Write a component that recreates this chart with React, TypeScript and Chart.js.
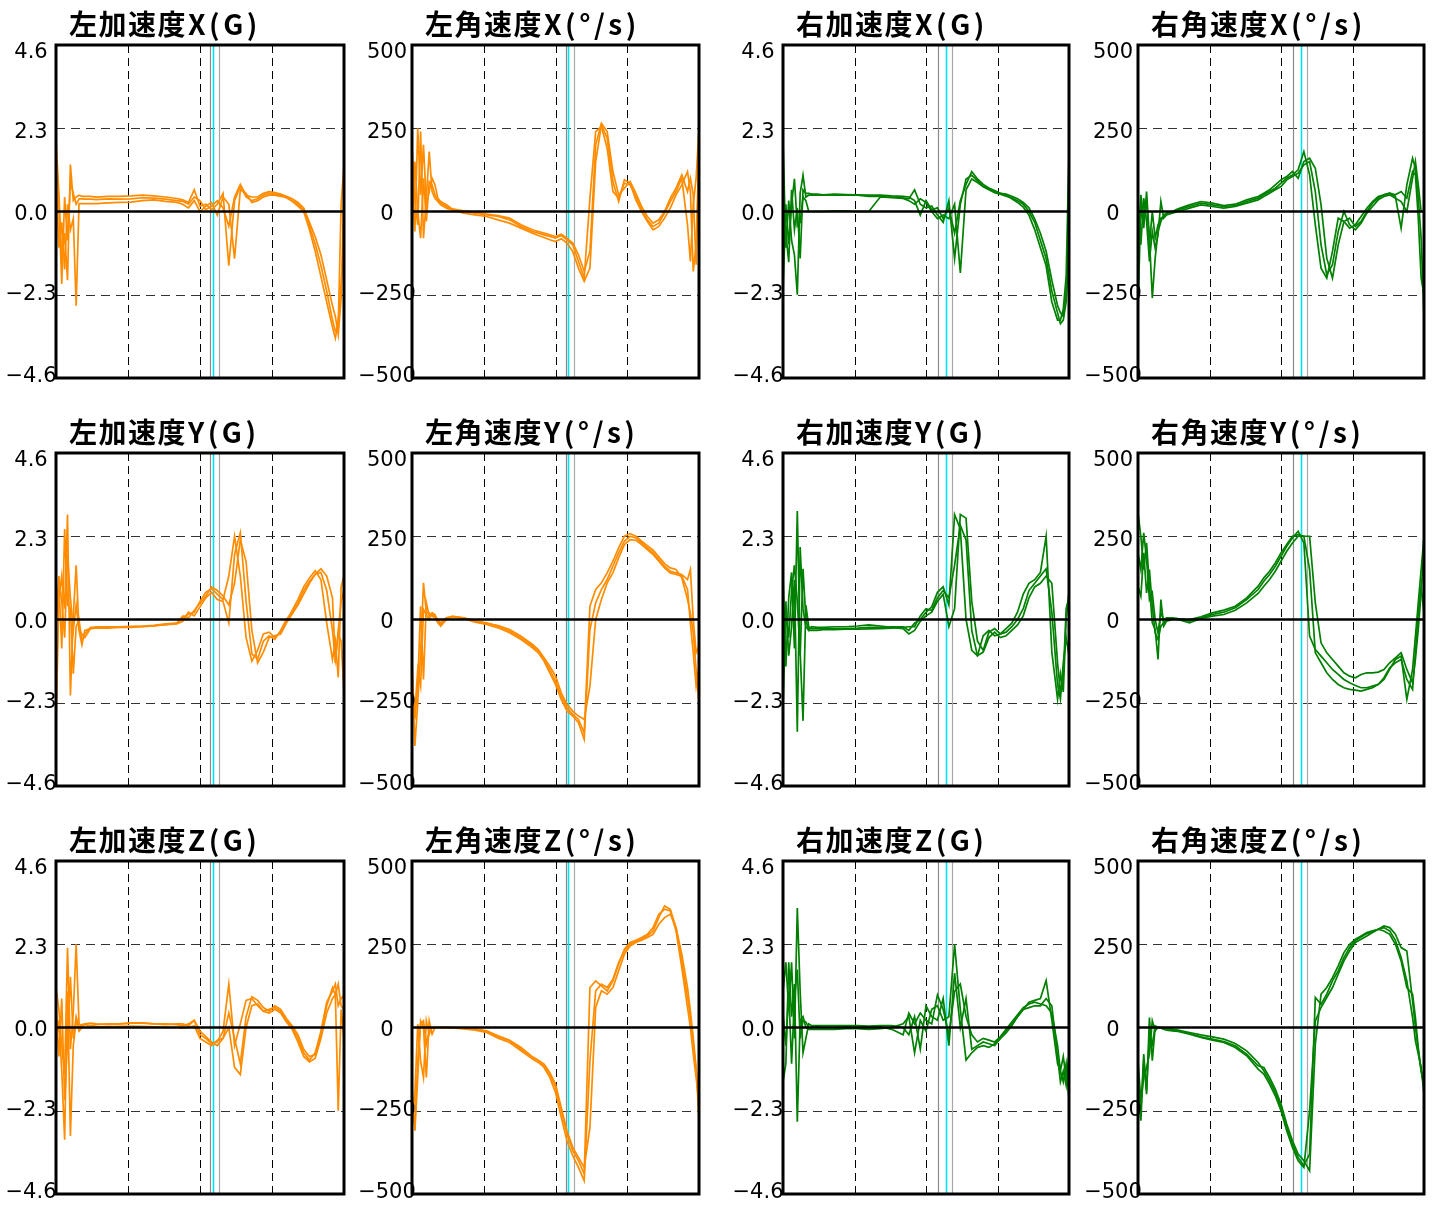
import React, { useEffect, useRef } from 'react';
import { Chart, registerables } from 'chart.js';

Chart.register(...registerables);

// ---------- shared x grid (percent of cycle) ----------
const X = [0, 1, 2, 3, 4, 5, 6, 7, 8, 9, 10, 12, 14, 18, 22, 26, 30, 34, 38, 42,
  44, 46, 48, 50, 52, 54, 56, 58, 60, 62, 64, 66, 68, 70, 72, 74, 76, 78, 80, 82, 84, 86, 88, 90, 92, 94,
  96, 97, 98, 99, 100];

const ACC_TICKS = [-4.6, -2.3, 0, 2.3, 4.6];
const ACC_LABELS = ['−4.6', '−2.3', '0.0', '2.3', '4.6'];
const ANG_TICKS = [-500, -250, 0, 250, 500];
const ANG_LABELS = ['−500', '−250', '0', '250', '500'];
const GRID_X = [25, 50, 75];
const LEFT_MARKS = [53.6, 54.5, 56.6];
const RIGHT_MARKS = [54.3, 56.9, 59.2];

const TITLE_HEADS = ['左加速度', '左角速度', '右加速度', '右角速度'];
const AXES = ['X', 'Y', 'Z'];
const UNITS = ['(G)', '(°/s)', '(G)', '(°/s)'];

// ---------- left acceleration X ----------
const LAX_A = [2.0, 0.5, -1.3, -0.6, -1.9, 1.3, 0.3, 0.4, 0.45, 0.42, 0.42, 0.42, 0.4, 0.42, 0.42, 0.43, 0.45, 0.43, 0.4, 0.36, 0.32, 0.25, 0.6, 0.15, 0.2, 0.05, 0.2, 0.5, -1.5, 0.3, 0.7, 0.4, 0.3, 0.35, 0.45, 0.5, 0.48, 0.45, 0.4, 0.3, 0.2, 0.05, -0.4, -0.9, -1.5, -2.2, -3.0, -3.3, -3.2, 0.2, 1.3];
const LAX_B = [1.0, -1.0, -0.3, -1.6, 0.2, -0.5, -0.2, -2.6, 0.22, 0.22, 0.22, 0.22, 0.22, 0.24, 0.25, 0.26, 0.3, 0.32, 0.28, 0.25, 0.2, 0.1, 0.3, 0.0, 0.15, 0.25, -0.1, 0.4, 0.2, -1.3, 0.6, 0.5, 0.25, 0.3, 0.4, 0.45, 0.45, 0.42, 0.38, 0.28, 0.15, 0.0, -0.5, -1.1, -1.8, -2.5, -3.2, -3.5, -3.0, -2.0, -0.8];
const LAX_C = [1.6, 0.2, -2.0, 0.4, -0.8, 0.8, 0.5, 0.2, 0.35, 0.35, 0.34, 0.34, 0.33, 0.35, 0.34, 0.35, 0.38, 0.37, 0.34, 0.3, 0.28, 0.2, 0.4, 0.3, 0.05, 0.15, 0.3, 0.1, -0.4, 0.4, 0.75, 0.45, 0.4, 0.4, 0.5, 0.55, 0.52, 0.48, 0.42, 0.35, 0.25, 0.1, -0.3, -0.7, -1.2, -1.9, -2.6, -2.9, -3.4, -2.4, 0.6];

// ---------- left angular velocity X ----------
const LANGX_A = [200, 30, -40, 240, -80, 40, 180, 60, 40, 30, 20, 10, 5, 0, -5, -10, -15, -25, -45, -60, -65, -70, -75, -80, -72, -85, -100, -150, -200, 40, 240, 255, 190, 60, 40, 85, 80, 45, 5, -25, -45, -35, -5, 30, 60, 100, -40, -150, 20, 100, 250];
const LANGX_B = [-40, 150, 0, -80, 100, -30, 90, 80, 50, 35, 25, 15, 5, -5, -10, -15, -25, -35, -50, -65, -72, -78, -85, -90, -82, -95, -120, -170, -210, -170, 150, 260, 220, 90, 30, 95, 85, 35, 0, -30, -55, -45, -20, 10, 50, 80, 120, 60, -180, -100, 190];
const LANGX_C = [100, -60, 250, 50, 200, 20, 60, 100, 80, 40, 30, 20, 8, 2, -2, -8, -12, -20, -40, -55, -60, -65, -70, -75, -68, -80, -95, -130, -180, -120, 200, 265, 240, 120, 50, 70, 90, 55, 15, -15, -35, -25, 0, 40, 70, 110, 60, 100, 50, -160, 180];

// ---------- right acceleration X ----------
const RAX_A = [2.0, -1.0, 0.3, -0.8, -1.2, -2.3, 0.5, 1.0, 0.4, 0.45, 0.45, 0.45, 0.45, 0.45, 0.45, 0.45, 0.42, 0.42, 0.4, 0.38, 0.35, 0.6, 0.2, 0.1, 0.15, -0.1, -0.3, 0.3, -1.3, 0.2, 0.9, 1.0, 0.85, 0.7, 0.62, 0.55, 0.5, 0.45, 0.35, 0.25, 0.12, -0.1, -0.5, -1.0, -1.5, -2.5, -3.0, -3.0, -2.7, -1.8, 1.7];
const RAX_B = [-2.2, 0.2, -0.9, 0.2, 0.9, -0.4, -0.3, 0.4, 0.3, 0.0, 0.0, 0.0, 0.0, 0.02, 0.02, 0.0, 0.0, 0.4, 0.38, 0.36, 0.3, 0.2, 0.35, 0.25, 0.0, -0.2, -0.1, -0.2, 0.2, -1.7, 0.6, 0.9, 0.8, 0.68, 0.6, 0.52, 0.48, 0.42, 0.38, 0.3, 0.2, 0.0, -0.3, -0.8, -1.3, -2.2, -2.8, -3.1, -3.0, -2.5, -1.0];
const RAX_C = [0.8, -0.6, -1.4, 0.6, -0.5, 0.1, -1.3, 0.6, 0.5, 0.5, 0.48, 0.48, 0.46, 0.48, 0.47, 0.46, 0.45, 0.45, 0.43, 0.42, 0.4, 0.3, -0.1, 0.3, 0.05, 0.1, -0.2, 0.1, -0.6, 0.3, 0.75, 1.1, 0.9, 0.75, 0.65, 0.58, 0.5, 0.48, 0.42, 0.35, 0.25, 0.1, -0.2, -0.6, -1.1, -1.9, -2.6, -2.8, -2.9, -2.2, -0.6];

// ---------- right angular velocity X ----------
const RANGX_A = [-300, 20, -50, 60, -80, -260, -140, -60, -30, -10, -5, 0, 5, 15, 25, 20, 15, 18, 30, 40, 50, 60, 70, 85, 100, 110, 125, 180, 110, -40, -170, -200, -120, -20, -30, -50, -40, -15, 10, 30, 45, 50, 55, 45, -50, 80, 160, 130, 40, -80, -320];
const RANGX_B = [0, -100, 40, -30, -150, -60, -110, -70, 30, -20, -10, -5, 0, 10, 20, 15, 10, 15, 25, 35, 45, 55, 65, 75, 95, 105, 115, 140, 150, 60, -100, -190, -160, -60, 0, -40, -55, -35, -5, 15, 35, 45, 50, 40, 30, 0, 100, 150, 80, 0, 0];
const RANGX_C = [-120, 50, -20, 30, -100, 0, -80, -40, -20, -15, -5, 0, 8, 20, 30, 25, 18, 22, 35, 45, 55, 65, 80, 95, 105, 120, 100, 150, 160, 130, 20, -140, -200, -100, -30, -20, -45, -30, 0, 25, 40, 50, 55, 50, 60, 40, 120, 110, -20, -200, -250];

// ---------- left acceleration Y ----------
const LAY_A = [-2.9, 0.5, 1.2, 0.3, 2.9, -2.1, 0.1, 1.5, -0.3, -0.4, -0.5, -0.25, -0.2, -0.2, -0.2, -0.19, -0.18, -0.16, -0.12, -0.1, 0.05, 0.15, 0.2, 0.5, 0.75, 0.85, 0.7, 0.55, 1.2, 2.3, 1.2, -0.5, -1.15, -0.85, -0.4, -0.35, -0.5, -0.35, -0.05, 0.25, 0.55, 0.9, 1.15, 1.35, 1.1, -0.1, -1.1, -0.6, -1.6, 0.9, 1.2];
const LAY_B = [0.0, 1.0, -0.8, 2.5, 0.4, 0.3, -1.5, -0.2, 0.0, -0.6, -0.4, -0.22, -0.22, -0.22, -0.2, -0.2, -0.19, -0.17, -0.14, -0.12, -0.05, 0.2, 0.1, 0.35, 0.6, 0.75, 0.55, 0.5, -0.1, 1.8, 2.4, 0.5, -0.95, -1.1, -0.6, -0.45, -0.55, -0.3, 0.0, 0.2, 0.45, 0.8, 1.05, 1.25, 1.3, 0.8, -0.3, -1.1, -0.4, -0.6, -2.0];
const LAY_C = [-0.4, 1.2, 0.5, -0.5, 1.8, 0.6, -0.3, 0.4, -0.3, -0.7, -0.3, -0.25, -0.24, -0.24, -0.22, -0.22, -0.2, -0.18, -0.14, -0.1, 0.1, 0.05, 0.25, 0.45, 0.65, 0.9, 0.8, 0.65, 0.4, 1.0, 2.2, 1.6, -0.3, -1.2, -0.9, -0.5, -0.45, -0.4, -0.1, 0.15, 0.4, 0.7, 1.0, 1.25, 1.4, 1.2, 0.6, -1.2, -0.3, 0.5, 0.8];

// ---------- left angular velocity Y ----------
const LANGY_A = [-120, -380, -250, -100, 110, 20, 20, 10, 5, -10, -20, 0, 10, 5, -5, -10, -20, -35, -55, -80, -95, -120, -150, -185, -230, -265, -285, -300, -340, 40, 90, 110, 140, 175, 215, 250, 258, 250, 235, 222, 208, 188, 168, 155, 150, 125, 60, 20, -40, -150, -250];
const LANGY_B = [-200, -280, -150, -200, 30, 15, 0, 20, 15, -5, -15, 5, 8, 3, -8, -15, -25, -40, -60, -85, -100, -125, -160, -195, -240, -275, -290, -310, -360, -30, 50, 90, 120, 160, 200, 235, 250, 245, 230, 215, 200, 180, 160, 145, 140, 135, 120, 150, 0, -100, -80];
const LANGY_C = [-160, -300, -200, 40, -180, 50, 10, 15, 10, 0, -10, 5, 8, 5, -3, -12, -18, -30, -50, -75, -90, -115, -140, -170, -220, -255, -275, -290, -300, -200, 0, 60, 110, 140, 185, 225, 240, 238, 225, 210, 195, 175, 155, 140, 135, 130, 90, -10, -100, -200, -140];

// ---------- right acceleration Y ----------
const RAY_A = [1.2, -1.3, 0.6, 1.3, -0.8, 3.0, -0.9, -2.8, 0.4, -0.2, -0.25, -0.25, -0.25, -0.25, -0.25, -0.24, -0.22, -0.22, -0.2, -0.2, -0.3, -0.1, 0.0, 0.2, 0.35, 0.75, 0.9, 0.4, 2.9, 2.5, 0.0, -0.85, -1.0, -0.45, -0.3, -0.45, -0.4, -0.25, -0.1, 0.2, 0.7, 1.0, 1.1, 1.3, 2.3, -0.9, -2.2, -1.5, -2.0, 0.0, 0.8];
const RAY_B = [-2.5, 0.5, -1.0, -0.2, 1.1, -3.1, 2.0, 0.3, -0.2, -0.3, -0.2, -0.22, -0.22, -0.2, -0.2, -0.18, -0.15, -0.18, -0.22, -0.25, -0.4, -0.3, -0.05, 0.1, 0.2, 0.5, 0.7, -0.2, 0.3, 2.9, 2.8, 0.5, -0.6, -0.85, -0.35, -0.25, -0.4, -0.35, -0.2, 0.0, 0.3, 0.8, 1.0, 1.2, 1.4, 0.2, -1.8, -2.2, -1.2, -0.5, -1.0];
const RAY_C = [-0.6, 0.2, -0.5, 0.8, 1.5, 0.5, -1.0, 1.4, 0.0, -0.3, -0.3, -0.3, -0.28, -0.28, -0.27, -0.27, -0.26, -0.25, -0.24, -0.22, -0.2, -0.2, 0.1, 0.3, 0.25, 0.6, 0.8, 0.6, 1.5, 2.6, 2.2, -0.3, -1.0, -0.9, -0.5, -0.35, -0.5, -0.45, -0.3, -0.15, 0.1, 0.6, 0.9, 1.0, 1.2, 1.0, -1.2, -2.0, -1.6, 0.3, 0.6];

// ---------- right angular velocity Y ----------
const RANGY_A = [320, 250, 150, 230, 100, -10, -30, -120, 60, -20, -5, 0, 2, -5, 5, 15, 22, 35, 60, 90, 115, 135, 160, 190, 220, 245, 265, 230, -50, -90, -110, -130, -150, -165, -180, -190, -198, -205, -205, -200, -195, -180, -150, -120, -110, -240, -150, -50, 50, 150, 250];
const RANGY_B = [100, 70, 200, 80, 150, 40, -40, -60, -20, -10, 0, 2, 0, -10, 3, 10, 15, 28, 50, 78, 100, 120, 145, 175, 205, 230, 250, 250, 150, -100, -130, -160, -180, -195, -205, -210, -212, -215, -210, -205, -195, -175, -145, -130, -120, -180, -210, -100, 20, 100, 20];
const RANGY_C = [200, 150, 260, 180, 60, 80, 0, -40, 20, 0, 5, 5, 3, 0, 8, 20, 28, 40, 65, 100, 125, 145, 170, 200, 225, 250, 255, 250, 250, 50, -70, -100, -120, -140, -160, -170, -175, -165, -160, -160, -158, -150, -130, -115, -100, -150, -190, -120, -30, 80, 230];

// ---------- left acceleration Z ----------
const LAZ_A = [1.1, 0.5, -0.5, -1.3, 2.2, -0.6, 0.4, 2.3, 0.1, 0.05, 0.08, 0.05, 0.08, 0.1, 0.1, 0.12, 0.12, 0.1, 0.1, 0.08, 0.05, 0.1, 0.2, -0.2, -0.3, -0.45, -0.4, -0.1, 1.2, -0.5, 0.1, 0.75, 0.8, 0.6, 0.45, 0.5, 0.55, 0.45, 0.2, 0.0, -0.3, -0.7, -0.9, -0.7, -0.1, 0.7, 1.0, 1.2, 0.6, 0.8, 0.9];
const LAZ_B = [-0.5, 0.2, -1.2, -3.1, 1.0, -3.0, -0.5, 0.2, -0.1, 0.0, 0.0, 0.0, 0.02, 0.02, 0.03, 0.04, 0.03, 0.02, 0.0, 0.0, -0.02, 0.0, 0.05, -0.3, -0.4, -0.5, -0.35, -0.3, 0.0, -1.1, -1.3, 0.0, 0.6, 0.65, 0.45, 0.4, 0.5, 0.4, 0.15, -0.05, -0.4, -0.8, -0.95, -0.85, -0.3, 0.4, 0.8, 0.9, -2.3, 0.5, -0.3];
const LAZ_C = [0.6, -0.8, 0.8, -2.0, -0.4, 1.4, -0.3, 0.3, 0.0, 0.08, 0.1, 0.12, 0.1, 0.08, 0.1, 0.12, 0.13, 0.1, 0.08, 0.1, 0.1, 0.05, 0.2, -0.1, -0.25, -0.4, -0.5, -0.3, 0.4, -0.3, -1.0, 0.3, 0.85, 0.75, 0.55, 0.45, 0.6, 0.5, 0.25, 0.05, -0.2, -0.6, -0.8, -0.75, -0.2, 0.6, 1.1, 0.9, 1.2, 0.6, 0.5];

// ---------- left angular velocity Z ----------
const LANGZ_A = [-180, -310, -150, 20, 0, -150, 20, -20, 0, 0, 0, 0, 0, -3, -5, -12, -28, -40, -65, -90, -100, -115, -140, -180, -250, -320, -370, -400, -440, 120, 140, 125, 110, 140, 190, 235, 255, 262, 270, 280, 300, 340, 355, 350, 290, 180, 60, 0, -80, -150, -230];
const LANGZ_B = [-280, -200, 10, -100, -150, 20, -20, 0, 0, 0, 0, 0, -1, -4, -8, -15, -32, -45, -70, -95, -105, -120, -150, -195, -270, -340, -385, -420, -460, -100, 110, 130, 120, 145, 195, 230, 250, 258, 265, 275, 290, 330, 365, 355, 300, 200, 90, 30, -50, -130, -210];
const LANGZ_C = [-250, -290, -100, 10, 20, -50, -10, 0, 0, 0, 0, 0, 0, -2, -4, -10, -25, -38, -60, -88, -98, -110, -135, -170, -240, -310, -360, -390, -420, -300, 60, 110, 100, 120, 170, 220, 245, 255, 262, 270, 280, 310, 330, 340, 300, 220, 120, 50, -30, -120, -280];

// ---------- right acceleration Z ----------
const RAZ_A = [1.0, 1.8, 0.5, 1.8, -0.3, 3.3, 1.0, -0.7, -0.3, 0.1, 0.05, 0.05, 0.05, 0.05, 0.05, 0.05, 0.04, 0.05, 0.05, 0.0, -0.2, 0.3, -0.6, 0.6, 0.3, 0.2, 0.8, -0.5, 1.5, 0.0, 0.8, -0.6, -0.5, -0.4, -0.45, -0.5, -0.3, -0.15, 0.05, 0.3, 0.5, 0.7, 0.75, 0.8, 1.3, 0.2, -1.0, -1.2, -1.5, -1.0, -2.0];
const RAZ_B = [-1.5, -1.0, 1.8, 0.3, 1.2, -2.6, 0.2, 0.3, 0.0, -0.05, -0.05, -0.05, -0.05, -0.05, -0.03, -0.03, -0.05, -0.03, 0.0, 0.1, 0.3, -0.7, 0.2, -0.1, 0.5, 0.6, 0.2, 0.3, 2.3, 0.5, -0.9, -0.7, -0.55, -0.5, -0.55, -0.45, -0.3, -0.1, 0.1, 0.3, 0.5, 0.55, 0.6, 0.6, 0.8, 0.6, -0.8, -1.5, -1.2, -1.6, -0.7];
const RAZ_C = [0.4, -0.5, 1.0, -1.0, 0.8, 1.6, -0.3, 0.2, 0.15, 0.0, 0.0, 0.02, 0.0, 0.0, 0.02, 0.0, 0.0, 0.02, -0.05, -0.2, 0.4, 0.1, 0.4, 0.2, 0.1, 0.9, 0.5, -0.2, 1.0, 1.2, 0.3, -0.2, -0.4, -0.3, -0.35, -0.4, -0.25, -0.05, 0.15, 0.35, 0.55, 0.65, 0.7, 0.65, 0.6, 0.4, -0.5, -1.2, -0.8, -1.4, -1.6];

// ---------- right angular velocity Z ----------
const RANGZ_A = [-200, -280, -100, -200, 30, -100, 0, 0, 0, -2, -3, -5, -8, -15, -22, -28, -35, -48, -70, -105, -130, -160, -195, -240, -300, -350, -390, -415, -380, 90, 70, 100, 140, 170, 210, 240, 260, 272, 282, 288, 295, 300, 290, 262, 210, 140, 30, -40, -80, -120, -200];
const RANGZ_B = [-100, -220, -150, -120, -80, 20, -10, 0, 0, -3, -5, -8, -10, -18, -28, -35, -42, -55, -80, -115, -120, -150, -185, -230, -290, -340, -380, -400, -430, -50, 100, 120, 150, 185, 225, 250, 265, 275, 285, 290, 295, 290, 280, 250, 200, 120, 100, 30, -60, -130, -180];
const RANGZ_C = [-150, -250, -80, -190, -20, -50, 5, 0, -2, -5, -8, -10, -12, -20, -30, -38, -45, -60, -85, -125, -140, -170, -205, -250, -310, -360, -400, -420, -250, 20, 60, 90, 120, 160, 200, 230, 255, 265, 275, 285, 295, 305, 300, 280, 240, 230, 80, 0, -70, -130, -160];

const ORANGE = '#FF8C00';
const GREEN = '#008000';

const SERIES = [
  [[LAX_A, LAX_B, LAX_C], [LANGX_A, LANGX_B, LANGX_C], [RAX_A, RAX_B, RAX_C], [RANGX_A, RANGX_B, RANGX_C]],
  [[LAY_A, LAY_B, LAY_C], [LANGY_A, LANGY_B, LANGY_C], [RAY_A, RAY_B, RAY_C], [RANGY_A, RANGY_B, RANGY_C]],
  [[LAZ_A, LAZ_B, LAZ_C], [LANGZ_A, LANGZ_B, LANGZ_C], [RAZ_A, RAZ_B, RAZ_C], [RANGZ_A, RANGZ_B, RANGZ_C]],
];

// layout (page pixels) of each plot area
const COL_LEFT = [56, 412, 783, 1138];
const COL_WIDTH = [288, 287, 286, 286];
const ROW_TOP = [45, 453, 861];
const PLOT_H = 333;
const PAD = { left: 56, top: 45, right: 10, bottom: 22 };
const LABEL_DY = [-1, 0, 3, 4.5, 7.5];

type PanelProps = {
  head: string;
  tail: string;
  series: number[][];
  color: string;
  ticks: number[];
  labels: string[];
  marks: number[];
  left: number;
  top: number;
  width: number;
};

function Panel(p: PanelProps) {
  const ref = useRef<HTMLCanvasElement | null>(null);
  const cw = PAD.left + p.width + PAD.right;
  const ch = PAD.top + PLOT_H + PAD.bottom;

  useEffect(() => {
    const canvas = ref.current;
    if (!canvas) return;
    const ymin = p.ticks[0];
    const ymax = p.ticks[p.ticks.length - 1];

    const decor = {
      id: 'decor',
      beforeDatasetsDraw(chart: any) {
        const { ctx, chartArea: a, scales } = chart;
        const xs = scales.x;
        const ys = scales.y;
        ctx.save();
        ctx.lineWidth = 1;
        ctx.strokeStyle = '#000';
        ctx.setLineDash([8, 5]);
        for (const g of GRID_X) {
          const px = Math.round(xs.getPixelForValue(g)) + 0.5;
          ctx.beginPath();
          ctx.moveTo(px, a.top);
          ctx.lineTo(px, a.bottom);
          ctx.stroke();
        }
        ctx.strokeStyle = '#333';
        ctx.setLineDash([9, 6]);
        for (const t of p.ticks) {
          if (t === 0 || t === ymin || t === ymax) continue;
          const py = Math.round(ys.getPixelForValue(t)) + 0.5;
          ctx.beginPath();
          ctx.moveTo(a.left, py);
          ctx.lineTo(a.right, py);
          ctx.stroke();
        }
        ctx.setLineDash([]);
        const markColors = ['#8a8a8a', '#00E5F0', '#a8a8a8'];
        const markWidths = [1.2, 1.6, 1.2];
        p.marks.forEach((m, i) => {
          const px = Math.round(xs.getPixelForValue(m)) + 0.5;
          ctx.strokeStyle = markColors[i];
          ctx.lineWidth = markWidths[i];
          ctx.beginPath();
          ctx.moveTo(px, a.top);
          ctx.lineTo(px, a.bottom);
          ctx.stroke();
        });
        ctx.restore();
      },
      afterDatasetsDraw(chart: any) {
        const { ctx, chartArea: a, scales } = chart;
        const ys = scales.y;
        ctx.save();
        const zy = ys.getPixelForValue(0);
        ctx.strokeStyle = '#000';
        ctx.lineWidth = 2.6;
        ctx.beginPath();
        ctx.moveTo(a.left, zy);
        ctx.lineTo(a.right, zy);
        ctx.stroke();
        ctx.lineWidth = 3;
        ctx.strokeRect(a.left, a.top, a.right - a.left, a.bottom - a.top);
        // tick labels
        ctx.fillStyle = '#000';
        ctx.font = '21px "DejaVu Sans", sans-serif';
        ctx.textAlign = 'center';
        ctx.textBaseline = 'middle';
        p.ticks.forEach((t, i) => {
          const py = ys.getPixelForValue(t) + LABEL_DY[i];
          ctx.fillText(p.labels[i], a.left - 25, py);
        });
        // title
        ctx.font = 'bold 28px "Noto Sans CJK JP", sans-serif';
        ctx.textAlign = 'left';
        ctx.textBaseline = 'middle';
        const ty = a.top - 21;
        const tx = a.left + 13;
        (ctx as any).letterSpacing = '1.5px';
        ctx.fillText(p.head, tx, ty);
        const hw = ctx.measureText(p.head).width;
        (ctx as any).letterSpacing = '3.5px';
        ctx.fillText(p.tail, tx + hw + 1, ty);
        (ctx as any).letterSpacing = '0px';
        ctx.restore();
      },
    };

    const chart = new Chart(canvas, {
      type: 'line',
      data: {
        datasets: p.series.map((s) => ({
          data: X.map((x, i) => ({ x, y: s[i] })),
          borderColor: p.color,
          backgroundColor: p.color,
          borderWidth: 1.7,
          pointRadius: 0,
          fill: false,
          tension: 0,
        })),
      },
      options: {
        animation: false,
        responsive: false,
        devicePixelRatio: 1,
        events: [],
        layout: { padding: PAD },
        plugins: {
          legend: { display: false },
          tooltip: { enabled: false },
          title: { display: false },
        },
        scales: {
          x: { type: 'linear', min: 0, max: 100, display: false },
          y: { type: 'linear', min: ymin, max: ymax, display: false },
        },
      },
      plugins: [decor],
    } as any);
    return () => chart.destroy();
  }, []);

  return (
    <canvas
      ref={ref}
      width={cw}
      height={ch}
      style={{ position: 'absolute', left: p.left - PAD.left, top: p.top - PAD.top, width: cw, height: ch }}
    />
  );
}

export default function App() {
  const panels: React.ReactNode[] = [];
  for (let r = 0; r < 3; r++) {
    for (let c = 0; c < 4; c++) {
      const isAng = c % 2 === 1;
      const isLeft = c < 2;
      panels.push(
        <Panel
          key={`${r}-${c}`}
          head={TITLE_HEADS[c]}
          tail={AXES[r] + UNITS[c]}
          series={SERIES[r][c]}
          color={isLeft ? ORANGE : GREEN}
          ticks={isAng ? ANG_TICKS : ACC_TICKS}
          labels={isAng ? ANG_LABELS : ACC_LABELS}
          marks={isLeft ? LEFT_MARKS : RIGHT_MARKS}
          left={COL_LEFT[c]}
          top={ROW_TOP[r]}
          width={COL_WIDTH[c]}
        />
      );
    }
  }
  return (
    <div style={{ position: 'absolute', left: 0, top: 0, width: 1434, height: 1209, overflow: 'hidden', background: '#fff' }}>
      {panels}
    </div>
  );
}
